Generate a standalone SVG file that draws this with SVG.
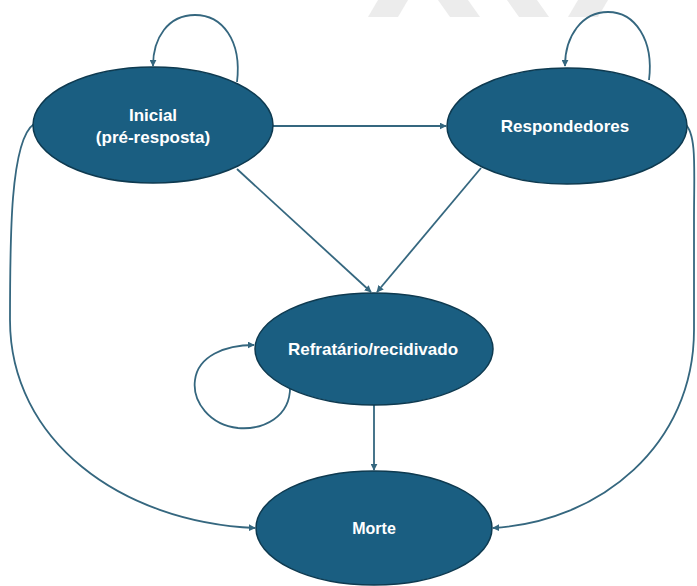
<svg xmlns="http://www.w3.org/2000/svg" width="697" height="586" viewBox="0 0 697 586">
<style>
.node{fill:#1a5e81;stroke:#0e3a50;stroke-width:1.5}
.lbl{fill:#ffffff;font-family:"Liberation Sans",Arial,sans-serif;font-weight:bold;font-size:17px;text-anchor:middle}
.edge{fill:none;stroke:#35677f;stroke-width:1.8;marker-end:url(#ah)}
.wm{fill:#ececec}
</style>
<defs>
<marker id="ah" viewBox="0 0 10 10" refX="9" refY="5" markerWidth="7" markerHeight="7" orient="auto" markerUnits="userSpaceOnUse">
<path d="M0,0 L10,5 L0,10 z" fill="#35677f"/>
</marker>
</defs>
<rect width="697" height="586" fill="#ffffff"/>
<g id="watermark">
<polygon class="wm" points="378,0 408,0 398,17 368,17"/>
<polygon class="wm" points="438,0 468,0 480,17 450,17"/>
<polygon class="wm" points="507,0 537,0 549,17 519,17"/>
<polygon class="wm" points="578,0 608,0 598,17 568,17"/>
</g>
<g id="connectors">
<path class="edge" d="M237,82 C242,40 222,15 195,15 C168,15 153,38 153,66"/>
<path class="edge" d="M649,80 C654,40 635,12 608,12 C582,12 565,36 565,66"/>
<path class="edge" d="M273,126 L446,126"/>
<path class="edge" d="M237,169 L371,292"/>
<path class="edge" d="M481,168 L377,292"/>
<path class="edge" d="M290,384 C292,418 262,430 238,428 C210,425 192,402 195,380 C198,356 225,345 254,345"/>
<path class="edge" d="M374,405 L374,470"/>
<path class="edge" d="M34,124 C10,140 10,240 10,320 C10,440 120,522 255,528"/>
<path class="edge" d="M685,124 C697,134 694,170 694,220 L694,330 C694,445 600,522 493,528"/>
</g>
<g id="inicial">
<ellipse class="node" cx="153" cy="125" rx="120" ry="58"/>
<text class="lbl" x="153" y="121">Inicial</text>
<text class="lbl" x="153" y="143">(pré-resposta)</text>
</g>
<g id="respondedores">
<ellipse class="node" cx="567" cy="126" rx="120" ry="58"/>
<text class="lbl" x="565" y="132">Respondedores</text>
</g>
<g id="refratario">
<ellipse class="node" cx="374" cy="349" rx="119" ry="56"/>
<text class="lbl" x="373" y="355">Refratário/recidivado</text>
</g>
<g id="morte">
<ellipse class="node" cx="374" cy="528" rx="118" ry="57"/>
<text class="lbl" x="374" y="534" style="font-size:16px">Morte</text>
</g>
</svg>
